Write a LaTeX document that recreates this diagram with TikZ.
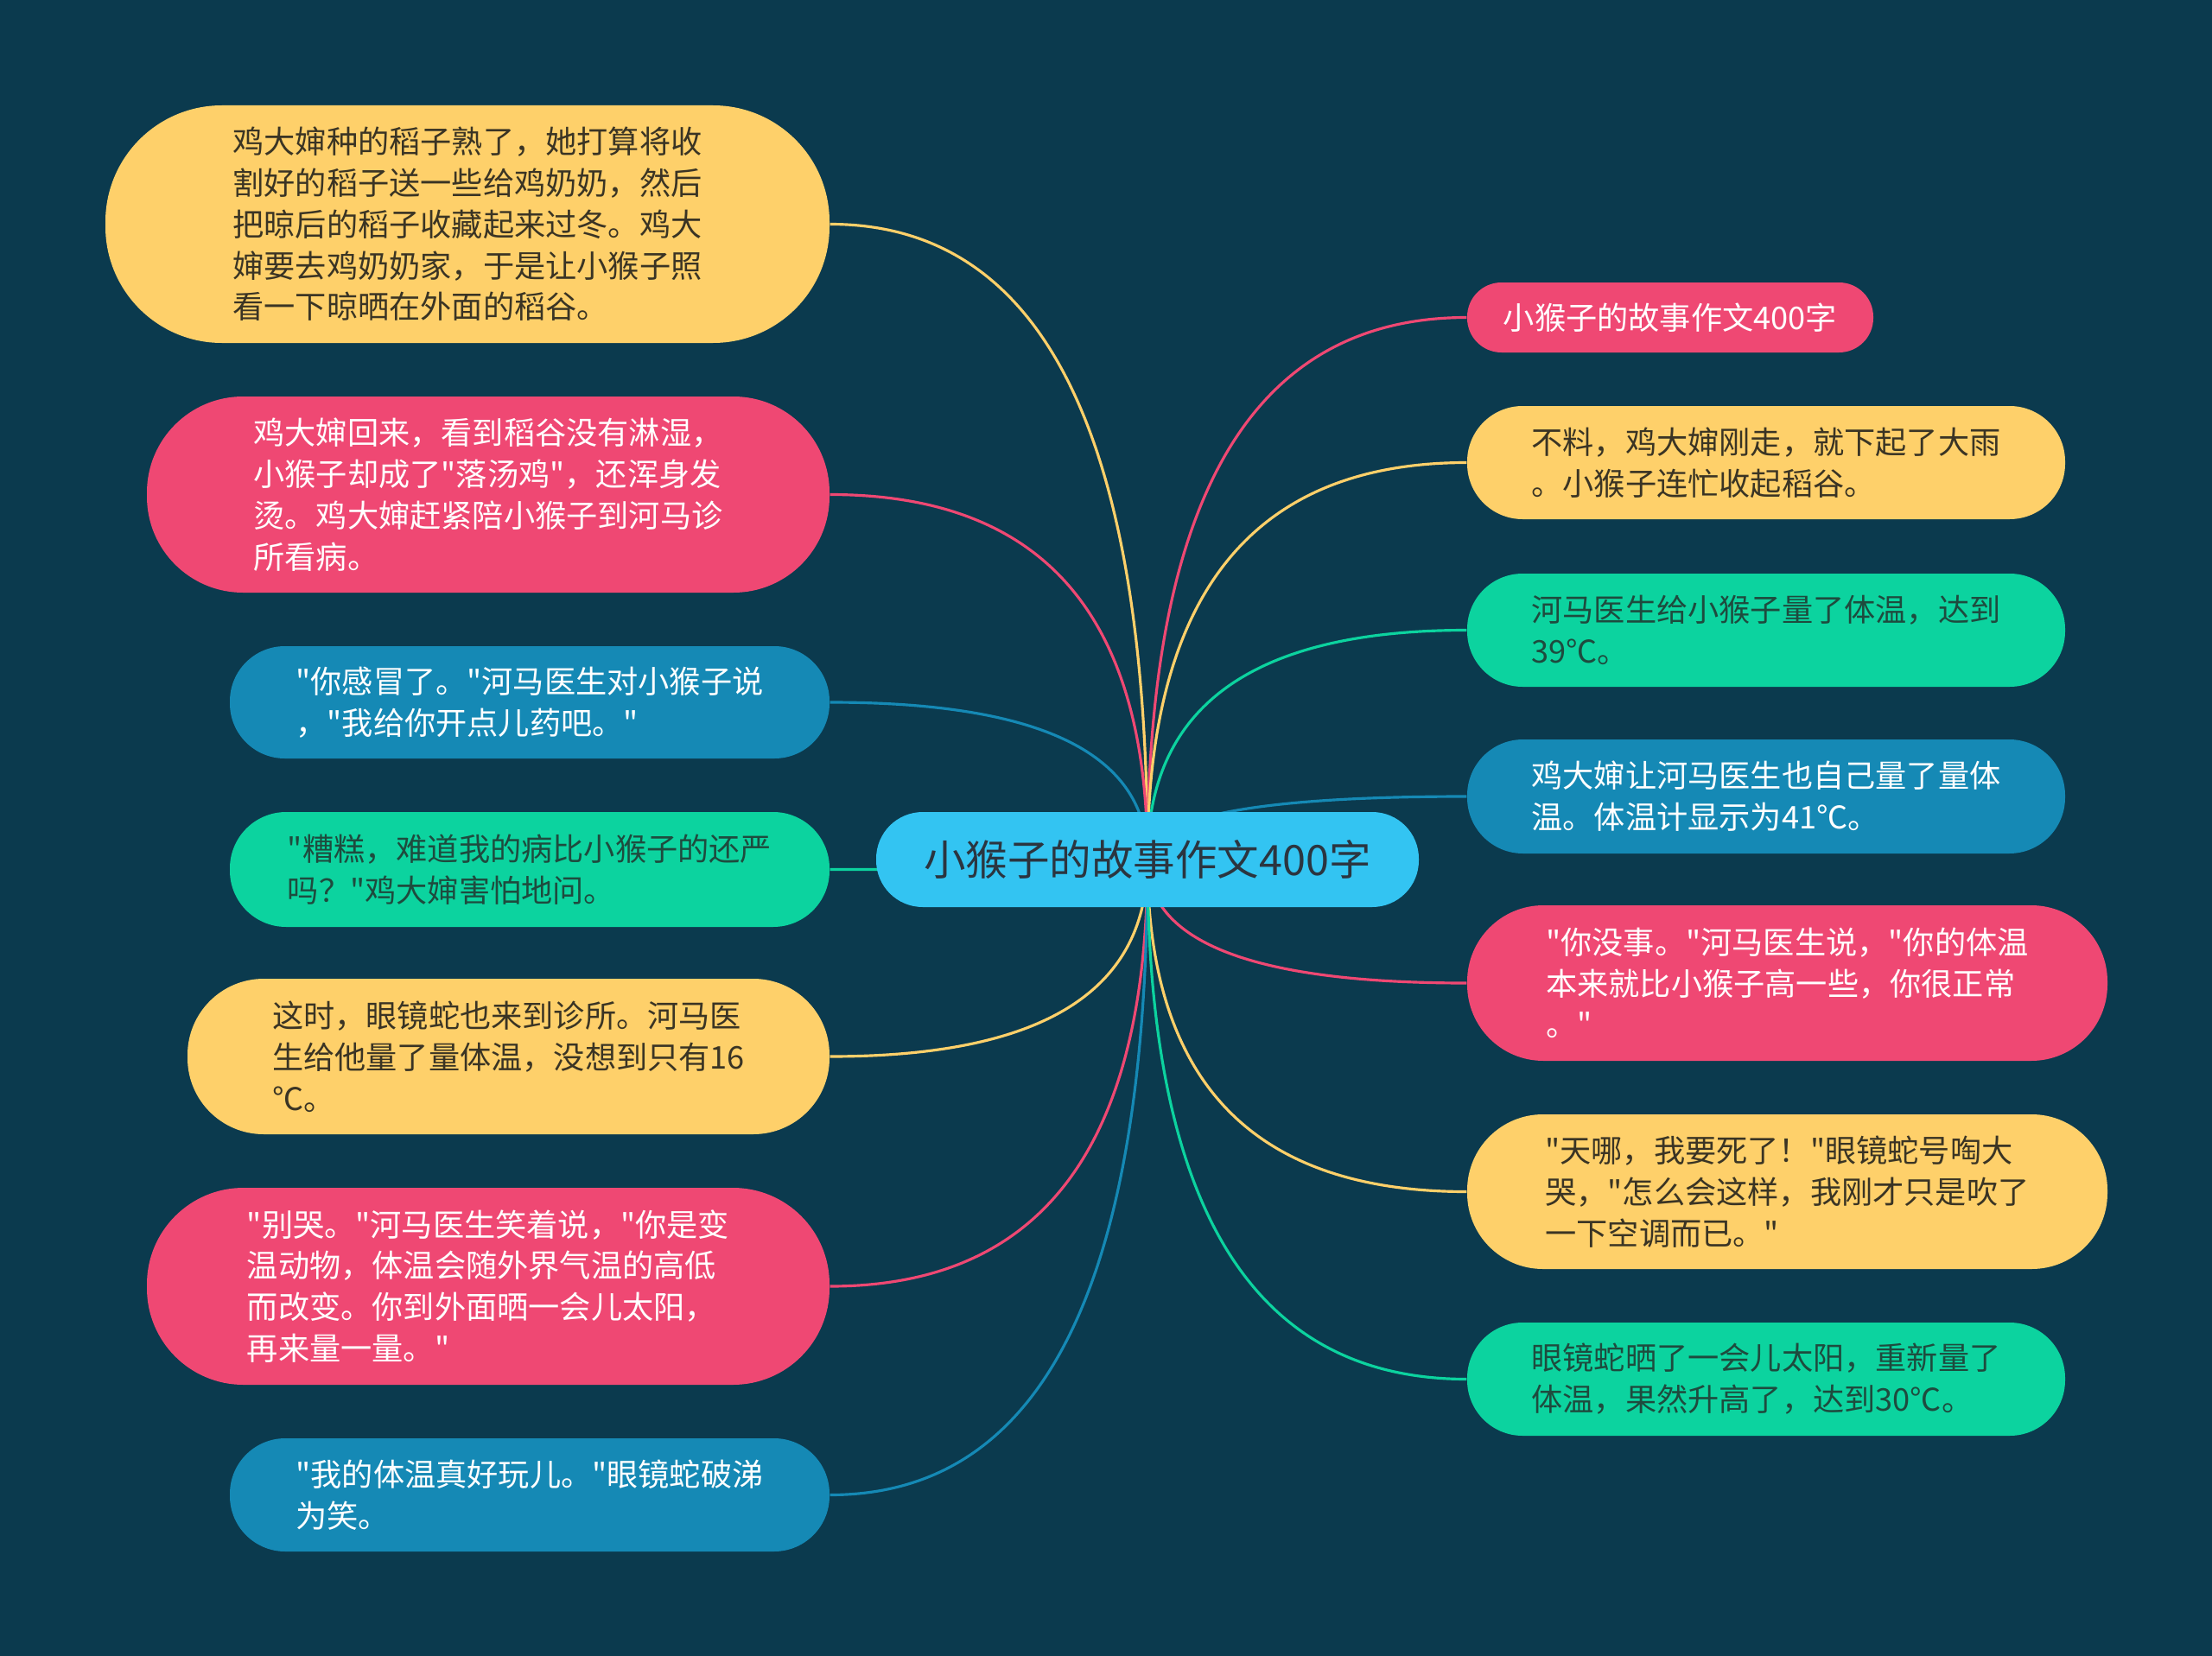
\documentclass[tikz,border=0pt]{standalone}
\usepackage{fontspec}
\newfontfamily\cjk{Noto Sans CJK SC}
\usetikzlibrary{backgrounds,calc}
\definecolor{bgc}{HTML}{0B3A4E}
\definecolor{cyel}{HTML}{FED06A}
\definecolor{cred}{HTML}{EF4873}
\definecolor{cblu}{HTML}{1589B5}
\definecolor{cgrn}{HTML}{0CD39F}
\definecolor{croot}{HTML}{33C4F2}
\definecolor{tdark}{HTML}{3A3424}
\definecolor{tgrn}{HTML}{1E4B3E}
\definecolor{troot}{HTML}{2B3540}
\pgfdeclarelayer{edges}
\pgfsetlayers{background,edges,main}

\begin{document}
\begin{tikzpicture}[
    leaf/.style={inner sep=0pt, align=left, font=\cjk\fontsize{10.3}{13.6}\selectfont},
    hgt/.style={minimum height=#1cm, rounded corners=#1*0.49cm},
    yel/.style={leaf, fill=cyel, text=tdark},
    red/.style={leaf, fill=cred, text=white},
    blu/.style={leaf, fill=cblu, text=white},
    grn/.style={leaf, fill=cgrn, text=tgrn},
    link/.style={line width=0.9pt}
]
\useasboundingbox (0,0) rectangle (25.6,-19.17);
\begin{scope}[on background layer]
\fill[bgc] (0,0) rectangle (25.6,-19.17);
\end{scope}

\node[inner sep=0pt, fill=croot, text=troot, hgt=1.1, minimum width=6.28cm, font=\cjk\fontsize{13.8}{16}\selectfont] (root) at (13.28,-9.95) {小猴子的故事作文400字};

% left side
\node[yel, hgt=2.75, minimum width=8.38cm] (l1) at (5.41,-2.595) {鸡大婶种的稻子熟了，她打算将收\\割好的稻子送一些给鸡奶奶，然后\\把晾后的稻子收藏起来过冬。鸡大\\婶要去鸡奶奶家，于是让小猴子照\\看一下晾晒在外面的稻谷。};
\node[red, hgt=2.27, minimum width=7.9cm] (l2) at (5.65,-5.725) {鸡大婶回来，看到稻谷没有淋湿，\\小猴子却成了"落汤鸡"，还浑身发\\烫。鸡大婶赶紧陪小猴子到河马诊\\所看病。};
\node[blu, hgt=1.3, minimum width=6.94cm] (l3) at (6.13,-8.13) {"你感冒了。"河马医生对小猴子说\\，"我给你开点儿药吧。"};
\node[grn, hgt=1.33, minimum width=6.94cm] (l4) at (6.13,-10.065) {"糟糕，难道我的病比小猴子的还严\\吗？"鸡大婶害怕地问。};
\node[yel, hgt=1.8, minimum width=7.43cm] (l5) at (5.885,-12.23) {这时，眼镜蛇也来到诊所。河马医\\生给他量了量体温，没想到只有16\\℃。};
\node[red, hgt=2.28, minimum width=7.9cm] (l6) at (5.65,-14.89) {"别哭。"河马医生笑着说，"你是变\\温动物，体温会随外界气温的高低\\而改变。你到外面晒一会儿太阳，\\再来量一量。"};
\node[blu, hgt=1.31, minimum width=6.94cm] (l7) at (6.13,-17.305) {"我的体温真好玩儿。"眼镜蛇破涕\\为笑。};

% right side
\node[red, hgt=0.81, minimum width=4.7cm] (r1) at (19.33,-3.675) {小猴子的故事作文400字};
\node[yel, hgt=1.31, minimum width=6.92cm] (r2) at (20.44,-5.355) {不料，鸡大婶刚走，就下起了大雨\\。小猴子连忙收起稻谷。};
\node[grn, hgt=1.31, minimum width=6.92cm] (r3) at (20.44,-7.295) {河马医生给小猴子量了体温，达到\\39℃。};
\node[blu, hgt=1.32, minimum width=6.92cm] (r4) at (20.44,-9.22) {鸡大婶让河马医生也自己量了量体\\温。体温计显示为41℃。};
\node[red, hgt=1.8, minimum width=7.41cm] (r5) at (20.685,-11.38) {"你没事。"河马医生说，"你的体温\\本来就比小猴子高一些，你很正常\\。"};
\node[yel, hgt=1.79, minimum width=7.41cm] (r6) at (20.685,-13.795) {"天哪，我要死了！"眼镜蛇号啕大\\哭，"怎么会这样，我刚才只是吹了\\一下空调而已。"};
\node[grn, hgt=1.31, minimum width=6.92cm] (r7) at (20.44,-15.965) {眼镜蛇晒了一会儿太阳，重新量了\\体温，果然升高了，达到30℃。};

\begin{pgfonlayer}{edges}
\foreach \n/\c in {l1/cyel, l2/cred, l3/cblu, l4/cgrn, l5/cyel, l6/cred, l7/cblu}
  \draw[link, \c] (root.center) .. controls ($(root.center)!0.67!(root.center |- \n.east)$) and ($(\n.east)!0.67!(root.center |- \n.east)$) .. (\n.east);
\foreach \n/\c in {r1/cred, r2/cyel, r3/cgrn, r4/cblu, r5/cred, r6/cyel, r7/cgrn}
  \draw[link, \c] (root.center) .. controls ($(root.center)!0.67!(root.center |- \n.west)$) and ($(\n.west)!0.67!(root.center |- \n.west)$) .. (\n.west);
\end{pgfonlayer}
\end{tikzpicture}
\end{document}
